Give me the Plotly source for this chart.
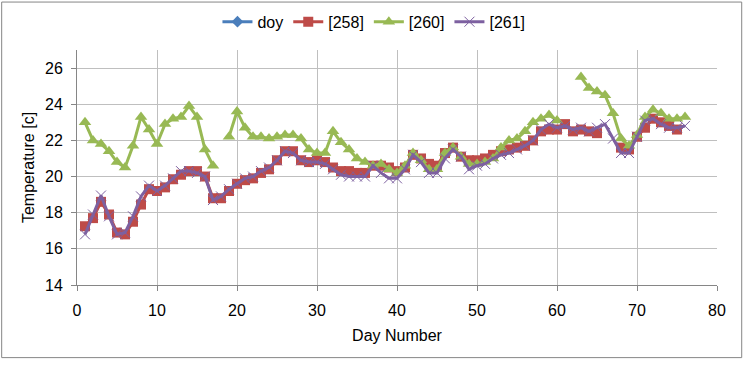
import plotly.graph_objects as go

days = list(range(1, 77))

t258 = [17.25, 17.7, 18.6, 17.9, 16.9, 16.8, 17.5, 18.45, 19.3, 19.2,
        19.4, 19.85, 20.1, 20.3, 20.3, 20.0, 18.8, 18.8, 19.2, 19.6,
        19.8, 19.9, 20.2, 20.4, 20.9, 21.4, 21.4, 20.9, 20.8, 20.9,
        20.8, 20.5, 20.3, 20.3, 20.2, 20.2, 20.6, 20.6, 20.5, 20.3,
        20.5, 21.2, 21.0, 20.7, 20.6, 21.3, 21.6, 21.1, 20.9, 20.9,
        21.0, 21.2, 21.4, 21.5, 21.6, 21.7, 22.0, 22.5, 22.6, 22.6,
        22.9, 22.5, 22.6, 22.5, 22.4, None, None, 21.6, 21.5, 22.2,
        22.7, 23.2, 23.0, 22.8, 22.6, None]

t260 = [23.0, 22.0, 21.8, 21.4, 20.8, 20.5, 21.7, 23.3, 22.6, 21.8,
        22.9, 23.2, 23.3, 23.9, 23.3, 21.5, 20.6, None, 22.2, 23.6,
        22.7, 22.2, 22.2, 22.1, 22.2, 22.3, 22.3, 22.1, 21.5, 21.3,
        21.3, 22.5, 21.9, 21.5, 21.0, 20.8, 20.6, 20.7, 20.4, 20.2,
        20.6, 21.3, 20.9, 20.4, 20.4, 21.3, 21.6, 21.1, 20.7, 20.7,
        20.8, 21.0, 21.6, 22.0, 22.1, 22.5, 23.0, 23.2, 23.4, 23.1,
        None, None, 25.5, 24.9, 24.7, 24.5, 23.5, 22.1, 21.7, 22.3,
        23.3, 23.7, 23.5, 23.2, 23.2, 23.3]

t261 = [16.8, 17.9, 18.95, 17.8, 16.8, 16.9, 17.8, 18.9, 19.5, 19.2,
        19.5, 19.9, 20.3, 20.3, 20.2, 20.0, 18.7, 18.9, 19.3, 19.6,
        19.9, 20.0, 20.3, 20.5, 20.9, 21.4, 21.3, 20.9, 20.8, 20.8,
        20.7, 20.4, 20.1, 20.0, 20.0, 20.0, 20.6, 20.2, 19.9, 19.9,
        20.4, 21.2, 20.8, 20.2, 20.2, 21.0, 21.5, 21.1, 20.4, 20.6,
        20.7, 21.0, 21.2, 21.3, 21.5, 21.7, 22.0, 22.6, 22.9, 22.7,
        22.8, 22.6, 22.7, 22.5, 22.7, 22.9, 22.1, 21.3, 21.3, 22.2,
        23.1, 23.2, 22.9, 22.7, 22.7, 22.8]

series_names = ["doy", "[258]", "[260]", "[261]"]
x_ticks = [0, 10, 20, 30, 40, 50, 60, 70, 80]
y_ticks = [14, 16, 18, 20, 22, 24, 26]

FONT = "Liberation Sans, Arial, sans-serif"
FS = 16

fig = go.Figure()
fig.add_trace(go.Scatter(
    x=[None], y=[None], name=series_names[0], mode="lines+markers",
    line=dict(color="#4A7EBB", width=3),
    marker=dict(symbol="diamond", size=9, color="#4A7EBB")))
fig.add_trace(go.Scatter(
    x=days, y=t258, name=series_names[1], mode="lines+markers",
    connectgaps=False,
    line=dict(color="#BE4B48", width=3),
    marker=dict(symbol="square", size=10, color="#BE4B48")))
fig.add_trace(go.Scatter(
    x=days, y=t260, name=series_names[2], mode="lines+markers",
    line=dict(color="#98B954", width=3),
    marker=dict(symbol="triangle-up", size=11, color="#98B954")))
fig.add_trace(go.Scatter(
    x=days, y=t261, name=series_names[3], mode="lines+markers",
    line=dict(color="#7D60A0", width=3),
    marker=dict(symbol="x-thin-open", size=10,
                line=dict(color="#7D60A0", width=1))))

axis_common = dict(
    showline=True, linecolor="#868686", linewidth=1,
    showgrid=True, gridcolor="#BFBFBF", gridwidth=1,
    ticks="outside", ticklen=5, tickcolor="#868686",
    tickfont=dict(family=FONT, size=FS, color="black"),
    zeroline=False,
)

fig.update_layout(
    width=745, height=365,
    margin=dict(l=77, r=28, t=50, b=80, autoexpand=False),
    paper_bgcolor="white", plot_bgcolor="white",
    font=dict(family=FONT, size=FS, color="black"),
    showlegend=True,
    legend=dict(orientation="h", x=0.464, xanchor="center", y=1.12,
                yanchor="middle", font=dict(family=FONT, size=FS),
                tracegroupgap=0, bgcolor="rgba(0,0,0,0)"),
    xaxis=dict(range=[0, 80], tickvals=x_ticks, ticklabelstandoff=6,
               title=dict(text="Day Number", font=dict(family=FONT, size=FS), standoff=11),
               **axis_common),
    yaxis=dict(range=[14, 27], tickvals=y_ticks, ticklabelstandoff=5,
               title=dict(text="Temperature [c]", font=dict(family=FONT, size=FS), standoff=6),
               **axis_common),
    shapes=[dict(type="rect", xref="paper", yref="paper",
                 x0=-0.1177, x1=1.0386, y0=-0.309, y1=1.204,
                 line=dict(color="#868686", width=1), fillcolor="rgba(0,0,0,0)",
                 layer="below")],
)

fig.write_html("out.html", config={"displayModeBar": False},
               post_script="document.body.style.margin='0';")
